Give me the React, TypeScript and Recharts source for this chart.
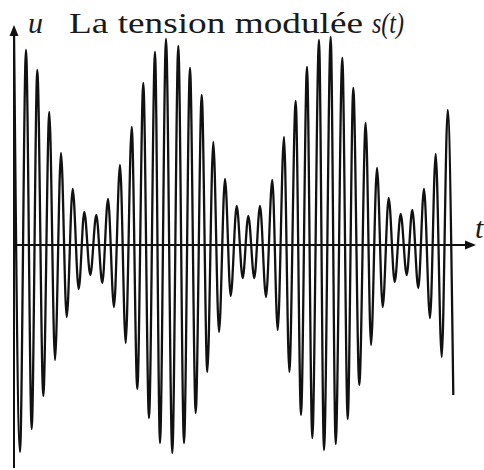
import React from "react";
import { LineChart, Line, XAxis, YAxis, ReferenceLine } from "recharts";

// time samples (pixel-like units along t) at the extremes of the signal
const times: number[] = [
  0, 6, 12, 17.7, 23.3, 29.3, 35.3, 41, 47, 52.7, 58.7, 64.7, 70.3, 76.3, 82.3, 88.3,
  94, 100, 106, 111.7, 117.7, 123.3, 129.3, 135, 141, 146, 152, 158.3, 164.3, 170,
  176, 181.7, 187.7, 193.3, 199.3, 205, 211, 216.7, 222.7, 228.7, 234.3, 240.3, 246,
  252, 258.3, 263.7, 270, 275.3, 281.7, 287, 293, 298.3, 305, 310, 316.7, 321.7,
  328.3, 333.7, 339.3, 345.3, 351.7, 357, 363, 368.7, 374.7, 380.7, 386.7, 392.7,
  398.3, 404.3, 410, 416, 421.7, 427.7, 433.7, 439.3,
];

// signal values s(t) at those samples
const values: number[] = [
  215, -207, 195, -184, 175, -151, 133, -115, 92, -72, 56, -44, 33, -30, 30, -38,
  46, -62, 80, -98, 118, -144, 162, -173, 193, -198, 206, -208, 199, -198,
  177, -168, 150, -127, 103, -87, 66, -51, 39, -33, 29, -33, 39,
  -52, 65, -85, 108, -127, 144, -170, 178, -193, 205, -205, 208, -199,
  187, -174, 157, -140, 122, -100, 77, -62, 47, -37, 31, -30,
  35, -43, 56, -73, 91, -112, 135, -150,
];

const data = times.map((t, i) => ({ t, s: values[i] }));

const T_DOMAIN: [number, number] = [0, 470];
const U_DOMAIN: [number, number] = [-225, 245];

const XArrow = (p: any) => {
  const { x1, y1, x2, y2 } = p;
  return (
    <g>
      <line x1={x1} y1={y1} x2={x2 - 6} y2={y2} stroke="#111" strokeWidth={2} />
      <polygon points={`${x2},${y2} ${x2 - 11},${y2 - 4.5} ${x2 - 11},${y2 + 4.5}`} fill="#111" />
    </g>
  );
};

const YArrow = (p: any) => {
  const { x1, y1, x2, y2 } = p;
  const top = Math.min(y1, y2);
  const bottom = Math.max(y1, y2);
  return (
    <g>
      <line x1={x1} y1={bottom} x2={x2} y2={top + 6} stroke="#111" strokeWidth={2} />
      <polygon points={`${x1},${top} ${x1 - 4.5},${top + 11} ${x1 + 4.5},${top + 11}`} fill="#111" />
    </g>
  );
};

const SERIF = "'Liberation Serif', 'Times New Roman', serif";

export default function App() {
  return (
    <div style={{ position: "absolute", left: 0, top: 0, width: 484, height: 470, background: "#fff" }}>
      <LineChart width={484} height={470} data={data} margin={{ top: 0, right: 0, bottom: 0, left: 14 }}>
        <XAxis type="number" dataKey="t" domain={T_DOMAIN} hide allowDataOverflow />
        <YAxis type="number" domain={U_DOMAIN} hide allowDataOverflow />
        <Line
          type="monotone"
          dataKey="s"
          stroke="#111"
          strokeWidth={2.3}
          dot={false}
          activeDot={false}
          isAnimationActive={false}
        />
        <ReferenceLine
          segment={[{ x: 0, y: 0 }, { x: 462, y: 0 }]}
          shape={XArrow}
        />
        <ReferenceLine
          segment={[{ x: 0, y: -223 }, { x: 0, y: 220 }]}
          shape={YArrow}
        />
      </LineChart>
      <svg
        width={484}
        height={470}
        style={{ position: "absolute", left: 0, top: 0, pointerEvents: "none" }}
      >
        <text x={28} y={33} fontFamily={SERIF} fontStyle="italic" fontSize={30} fill="#1a1a1a">u</text>
        <text
          x={69}
          y={33}
          fontFamily={SERIF}
          fontSize={30}
          fill="#1a1a1a"
          textLength={294}
          lengthAdjust="spacingAndGlyphs"
        >
          La tension modulée
        </text>
        <text
          x={372}
          y={33}
          fontFamily={SERIF}
          fontStyle="italic"
          fontSize={30}
          fill="#1a1a1a"
          textLength={32}
          lengthAdjust="spacingAndGlyphs"
        >
          s(t)
        </text>
        <text x={475} y={238} fontFamily={SERIF} fontStyle="italic" fontSize={30} fill="#1a1a1a">t</text>
      </svg>
    </div>
  );
}
